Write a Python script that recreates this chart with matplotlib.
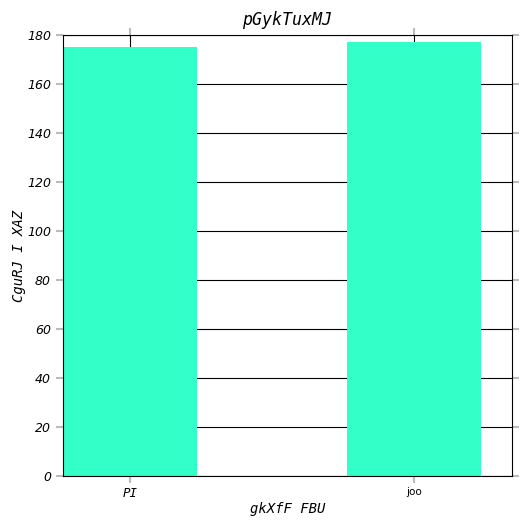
import matplotlib
matplotlib.use('Agg')
import matplotlib.pyplot as plt

categories = ['PI', 'joo']
values = [175, 177]

fig, ax = plt.subplots(figsize=(5.28, 5.28), dpi=100)
fig.subplots_adjust(left=0.119, right=0.97, top=0.934, bottom=0.098)

ax.bar(range(len(categories)), values, width=0.47, color='#33ffc8', zorder=2)
ax.set_axisbelow(True)
ax.grid(True, color='black', linewidth=0.8)

ax.set_xlim(-0.236, 1.345)
ax.set_ylim(0, 180)
ax.set_yticks(range(0, 181, 20))
ax.set_xticks(range(len(categories)))
ax.set_xticklabels(categories)

ax.tick_params(axis='both', which='both', color='#bbbbbb', length=5, width=1.5,
               top=True, right=True, direction='out')
ax.tick_params(axis='x', pad=2.5)
for lab in ax.get_yticklabels():
    lab.set_fontstyle('italic')
    lab.set_fontsize(9)
xl = ax.get_xticklabels()
xl[0].set_family('DejaVu Sans Mono')
xl[0].set_fontstyle('italic')
xl[0].set_fontsize(9)
xl[1].set_fontsize(7.5)

ax.set_title('pGykTuxMJ', family='DejaVu Sans Mono', style='italic', fontsize=12,
             pad=7)
ax.set_xlabel('gkXfF FBU', family='DejaVu Sans Mono', style='italic', fontsize=10,
              labelpad=1.5)
ax.set_ylabel('CguRJ I XAZ', family='DejaVu Sans Mono', style='italic', fontsize=10,
              labelpad=1)

fig.savefig('out.png', dpi=100)
